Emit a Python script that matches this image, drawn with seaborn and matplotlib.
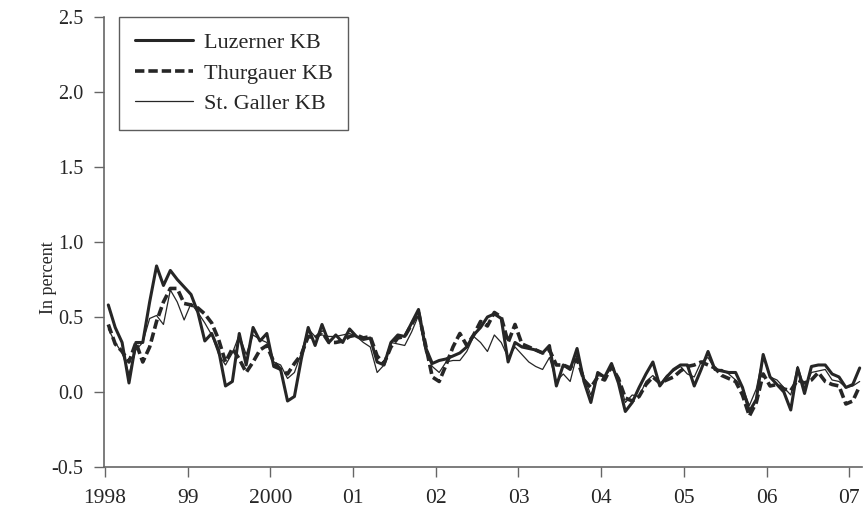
import numpy as np
import pandas as pd
import matplotlib
matplotlib.use("Agg")
import matplotlib.pyplot as plt
import seaborn as sns

# monthly spreads, Jan 1998 - Feb 2007 (in percent)
luzerner = [0.58, 0.43, 0.33, 0.06, 0.33, 0.33, 0.60, 0.84, 0.71, 0.81, 0.75, 0.70,
            0.65, 0.53, 0.34, 0.39, 0.28, 0.04, 0.07, 0.39, 0.18, 0.43, 0.34, 0.39,
            0.17, 0.15, -0.06, -0.03, 0.22, 0.43, 0.31, 0.45, 0.33, 0.38, 0.33, 0.42,
            0.37, 0.35, 0.36, 0.20, 0.18, 0.33, 0.38, 0.37, 0.46, 0.55, 0.30, 0.19,
            0.21, 0.22, 0.24, 0.26, 0.30, 0.38, 0.43, 0.50, 0.52, 0.49, 0.20, 0.33,
            0.30, 0.29, 0.28, 0.26, 0.31, 0.04, 0.18, 0.15, 0.29, 0.07, -0.07, 0.13,
            0.10, 0.19, 0.06, -0.13, -0.07, 0.03, 0.12, 0.20, 0.04, 0.10, 0.15, 0.18,
            0.18, 0.04, 0.15, 0.27, 0.15, 0.14, 0.13, 0.13, 0.03, -0.13, -0.05, 0.25,
            0.10, 0.05, 0.00, -0.12, 0.16, -0.01, 0.17, 0.18, 0.18, 0.12, 0.10, 0.03,
            0.05, 0.16]
thurgauer = [0.45, 0.32, 0.27, 0.20, 0.33, 0.20, 0.30, 0.47, 0.60, 0.69, 0.69, 0.59,
             0.58, 0.56, 0.52, 0.46, 0.35, 0.20, 0.29, 0.22, 0.13, 0.20, 0.28, 0.31,
             0.20, 0.15, 0.12, 0.19, 0.25, 0.37, 0.36, 0.40, 0.33, 0.33, 0.34, 0.37,
             0.38, 0.36, 0.37, 0.24, 0.19, 0.30, 0.36, 0.37, 0.45, 0.53, 0.32, 0.10,
             0.07, 0.18, 0.30, 0.39, 0.31, 0.38, 0.47, 0.44, 0.53, 0.50, 0.33, 0.45,
             0.32, 0.30, 0.28, 0.26, 0.28, 0.18, 0.18, 0.16, 0.22, 0.08, 0.03, 0.10,
             0.08, 0.17, 0.09, -0.04, -0.06, -0.03, 0.05, 0.10, 0.06, 0.08, 0.10, 0.14,
             0.17, 0.18, 0.20, 0.18, 0.16, 0.11, 0.09, 0.07, -0.02, -0.16, -0.07, 0.12,
             0.04, 0.05, 0.02, 0.01, 0.08, 0.06, 0.08, 0.13, 0.07, 0.05, 0.04, -0.08,
             -0.06, 0.04]
stgaller = [0.42, 0.33, 0.26, 0.12, 0.28, 0.33, 0.49, 0.51, 0.45, 0.68, 0.60, 0.48,
            0.59, 0.53, 0.46, 0.38, 0.25, 0.18, 0.26, 0.38, 0.25, 0.38, 0.35, 0.33,
            0.20, 0.18, 0.09, 0.13, 0.26, 0.42, 0.37, 0.38, 0.37, 0.37, 0.38, 0.39,
            0.37, 0.33, 0.30, 0.13, 0.18, 0.33, 0.32, 0.31, 0.40, 0.51, 0.27, 0.17,
            0.13, 0.20, 0.21, 0.21, 0.27, 0.37, 0.33, 0.27, 0.38, 0.33, 0.23, 0.30,
            0.25, 0.20, 0.17, 0.15, 0.23, 0.07, 0.12, 0.07, 0.25, 0.10, -0.02, 0.11,
            0.10, 0.16, 0.10, -0.07, -0.02, -0.03, 0.07, 0.11, 0.05, 0.11, 0.14, 0.17,
            0.12, 0.10, 0.20, 0.23, 0.15, 0.15, 0.12, 0.08, 0.03, -0.09, 0.02, 0.24,
            0.10, 0.08, 0.03, -0.02, 0.17, 0.03, 0.13, 0.14, 0.15, 0.08, 0.07, 0.03,
            0.04, 0.07]

series_names = ["Luzerner KB", "Thurgauer KB", "St. Galler KB"]
year_ticks = list(range(1998, 2008))
year_labels = ["1998", "99", "2000", "01", "02", "03", "04", "05", "06", "07"]

# x position of each month (middle of the month, in years)
months = 1998 + (np.arange(len(luzerner)) + 0.5) / 12

sns.set_style("ticks")
plt.rcParams["font.family"] = ["Liberation Serif", "DejaVu Serif"]
plt.rcParams["axes.unicode_minus"] = False

fig = plt.figure(figsize=(8.64, 5.15), dpi=100)
ax = fig.add_axes([0.1204, 0.0932, 0.877, 0.874])

ink = "#262626"
styles = [dict(lw=2.2, ls="-"), dict(lw=2.6, ls=(0, (2.6, 1.1))), dict(lw=0.9, ls="-")]
for name, vals, st in zip(series_names, [luzerner, thurgauer, stgaller], styles):
    sns.lineplot(x=months, y=vals, ax=ax, color=ink, label=name,
                 linewidth=st["lw"], linestyle=st["ls"])

ax.set_xlim(1997.99, 2007.15)
ax.set_ylim(-0.5, 2.5)
ax.set_xticks(year_ticks)
ax.set_xticklabels(year_labels)
ax.set_yticks(np.arange(-0.5, 2.51, 0.5))
ax.set_yticklabels([f"{v:.1f}" for v in np.arange(-0.5, 2.51, 0.5)])
ax.tick_params(axis="both", length=7, width=1, color="#666666", direction="out")
ax.tick_params(axis="x", labelsize=15.5, pad=9)
ax.tick_params(axis="y", labelsize=14.5, pad=8)
ax.set_ylabel("In percent", fontsize=13)
ax.yaxis.set_label_coords(-0.062, 0.42)
ax.set_xlabel("")

for s in ["top", "right"]:
    ax.spines[s].set_visible(False)
for s in ["left", "bottom"]:
    ax.spines[s].set_color("#666666")
    ax.spines[s].set_linewidth(1.2)

leg = ax.legend(loc="upper left", bbox_to_anchor=(0.02, 1.0), borderaxespad=0,
                fontsize=16, handlelength=2.6, handletextpad=0.5,
                labelspacing=0.45, frameon=True, fancybox=False,
                borderpad=0.7)
leg.get_frame().set_edgecolor("#333333")
leg.get_frame().set_linewidth(1.0)

fig.savefig("out.png", dpi=100)
